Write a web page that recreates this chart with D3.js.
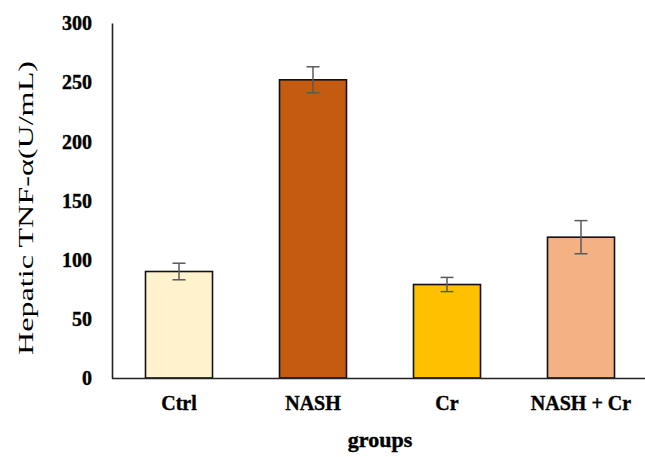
<!DOCTYPE html>
<html>
<head>
<meta charset="utf-8">
<script src="https://cdn.jsdelivr.net/npm/d3@7/dist/d3.min.js"></script>
<style>
  html, body { margin: 0; padding: 0; background: #fff; }
  svg { display: block; }
  text { font-family: "Times New Roman", "Liberation Serif", "DejaVu Serif", serif; fill: #000; }
</style>
</head>
<body>
<svg id="chart" width="645" height="457"></svg>
<script>
// Hepatic TNF-α by treatment group (mean ± error)
const groups = ["Ctrl", "NASH", "Cr", "NASH + Cr"];
const means = [90, 252, 79, 119];
const errors = [7, 11, 6, 14];
const barColors = ["#FFF2CC", "#C55A11", "#FFC000", "#F4B183"];
const yTicks = [0, 50, 100, 150, 200, 250, 300];

const serif = "'Times New Roman', 'Liberation Serif', 'DejaVu Serif', serif";
const svg = d3.select("#chart");
const plotLeft = 112, plotRight = 648, plotTop = 23, plotBottom = 378;

const x = d3.scaleBand()
  .domain(groups)
  .range([plotLeft, plotRight])
  .paddingInner(0.5)
  .paddingOuter(0.25);

const y = d3.scaleLinear()
  .domain([0, 300])
  .range([plotBottom, plotTop]);

const data = groups.map((g, i) => ({ g, v: means[i], e: errors[i], c: barColors[i] }));

// Bars
svg.append("g").selectAll("rect")
  .data(data)
  .join("rect")
  .attr("x", d => x(d.g))
  .attr("y", d => y(d.v))
  .attr("width", x.bandwidth())
  .attr("height", d => y(0) - y(d.v))
  .attr("fill", d => d.c)
  .attr("stroke", "#111")
  .attr("stroke-width", 1.6);

// Error bars
const eb = svg.append("g")
  .attr("stroke", "#5a5a5a")
  .attr("stroke-width", 1.5)
  .attr("fill", "none");
const cap = 6.5;
data.forEach(d => {
  const cx = x(d.g) + x.bandwidth() / 2;
  eb.append("line").attr("x1", cx).attr("x2", cx).attr("y1", y(d.v + d.e)).attr("y2", y(d.v - d.e));
  eb.append("line").attr("x1", cx - cap).attr("x2", cx + cap).attr("y1", y(d.v + d.e)).attr("y2", y(d.v + d.e));
  eb.append("line").attr("x1", cx - cap).attr("x2", cx + cap).attr("y1", y(d.v - d.e)).attr("y2", y(d.v - d.e));
});

// Y axis (no tick marks)
const yAxis = svg.append("g")
  .attr("transform", `translate(${plotLeft},0)`)
  .call(d3.axisLeft(y).tickValues(yTicks).tickSize(0).tickPadding(20))
  .attr("font-family", serif)
  .attr("font-size", 20)
  .attr("font-weight", "bold");
yAxis.select(".domain").attr("stroke", "#222").attr("stroke-width", 1.6);
yAxis.selectAll(".tick text")
  .attr("fill", "#000")
  .attr("stroke", "#000")
  .attr("stroke-width", 0.4)
  .attr("dy", "0.34em");

// X axis
const xAxis = svg.append("g")
  .attr("transform", `translate(0,${plotBottom})`)
  .call(d3.axisBottom(x).tickSize(0).tickPadding(0))
  .attr("font-family", serif)
  .attr("font-size", 20)
  .attr("font-weight", "bold");
xAxis.select(".domain").attr("d", `M${plotLeft},0.5H${plotRight}`).attr("stroke", "#222").attr("stroke-width", 1.6);
xAxis.selectAll(".tick text")
  .attr("fill", "#000")
  .attr("stroke", "#000")
  .attr("stroke-width", 0.4)
  .attr("y", 32)
  .attr("dy", 0);

// Axis titles
svg.append("text")
  .attr("x", 380)
  .attr("y", 447)
  .attr("text-anchor", "middle")
  .attr("font-weight", "bold")
  .attr("font-size", 22)
  .attr("stroke", "#000")
  .attr("stroke-width", 0.4)
  .text("groups");

svg.append("text")
  .attr("transform", "translate(33,208) rotate(-90)")
  .attr("text-anchor", "middle")
  .attr("font-size", 22)
  .attr("textLength", 294)
  .attr("lengthAdjust", "spacingAndGlyphs")
  .text("Hepatic  TNF-α(U/mL)");
</script>
</body>
</html>
